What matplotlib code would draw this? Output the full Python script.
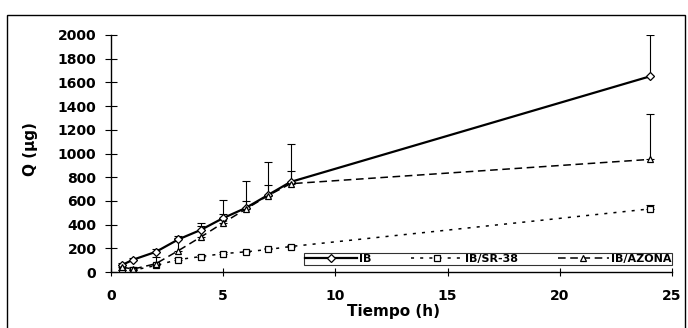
import numpy as np
import matplotlib
matplotlib.use("Agg")
import matplotlib.pyplot as plt
from matplotlib.patches import Rectangle

plt.rcParams['font.family'] = ['DejaVu Sans']

# tiempo (h)
t = [0.5, 1, 2, 3, 4, 5, 6, 7, 8, 24]

# IB
ib = [60, 105, 170, 275, 355, 455, 540, 650, 760, 1650]
ib_err = [15, 15, 20, 25, 60, 150, 230, 280, 320, 350]

# IB/SR-38
sr = [15, 15, 55, 105, 130, 155, 170, 190, 215, 532]
sr_err = [5, 5, 10, 10, 10, 10, 10, 10, 10, 30]

# IB/AZONA
az = [40, 25, 70, 180, 295, 415, 530, 645, 745, 950]
az_err = [15, 15, 60, 110, 90, 75, 65, 90, 105, 380]

fig = plt.figure(figsize=(6.88, 3.28), dpi=100)
ax = fig.add_axes([111/688, 56/328, 561/688, 237/328])

# marco exterior
fig.patches.append(Rectangle((7/688, -0.1), 678/688, 1.1 - 15/328, transform=fig.transFigure,
                             fill=False, edgecolor='black', linewidth=1.0))

eb = dict(ecolor='black', elinewidth=0.8, capsize=3, capthick=0.8)

ax.errorbar(t, ib, yerr=[np.zeros(len(ib)), ib_err], fmt='none', **eb)
ax.errorbar(t, az, yerr=[np.zeros(len(az)), az_err], fmt='none', **eb)
ax.errorbar(t, sr, yerr=[np.zeros(len(sr)), sr_err], fmt='none', **eb)

ax.plot(t, ib, color='black', lw=1.6, marker='D', ms=4, mfc='white', mec='black',
        mew=0.9, label='IB')
ax.plot(t, sr, color='black', lw=1.1, dashes=(2, 4), marker='s', ms=5, mfc='white',
        mec='black', mew=0.9, label='IB/SR-38')
ax.plot(t, az, color='black', lw=1.1, dashes=(5, 3), marker='^', ms=5, mfc='white',
        mec='black', mew=0.9, label='IB/AZONA')

ax.set_xlim(0, 25)
ax.set_ylim(0, 2000)
ax.set_xticks([0, 5, 10, 15, 20, 25])
ax.set_yticks(range(0, 2001, 200))

for s in ['top', 'right']:
    ax.spines[s].set_visible(False)
ax.spines['left'].set_linewidth(1.0)
ax.spines['bottom'].set_linewidth(1.0)
ax.tick_params(axis='y', direction='inout', length=9, width=0.8, labelsize=10, pad=6)
ax.tick_params(axis='x', direction='inout', length=6, width=0.8, labelsize=10, pad=9)
for lab in ax.get_xticklabels() + ax.get_yticklabels():
    lab.set_fontweight('bold')

ax.set_xlabel('Tiempo (h)', fontsize=11, fontweight='bold')
ax.xaxis.set_label_coords(0.503, -0.135)
ax.set_ylabel('Q (µg)', fontsize=11, fontweight='bold')
ax.yaxis.set_label_coords(-0.13, 0.52)

leg = ax.legend(loc='lower right', ncol=3, frameon=True,
                prop={'weight': 'bold', 'size': 8}, handlelength=4.6,
                handletextpad=0.2, columnspacing=3.6, fancybox=False,
                edgecolor='black', borderpad=0.1,
                bbox_to_anchor=(678/688, 57/328), bbox_transform=fig.transFigure)
leg.get_frame().set_linewidth(0.8)

fig.savefig('out.png', dpi=100)
